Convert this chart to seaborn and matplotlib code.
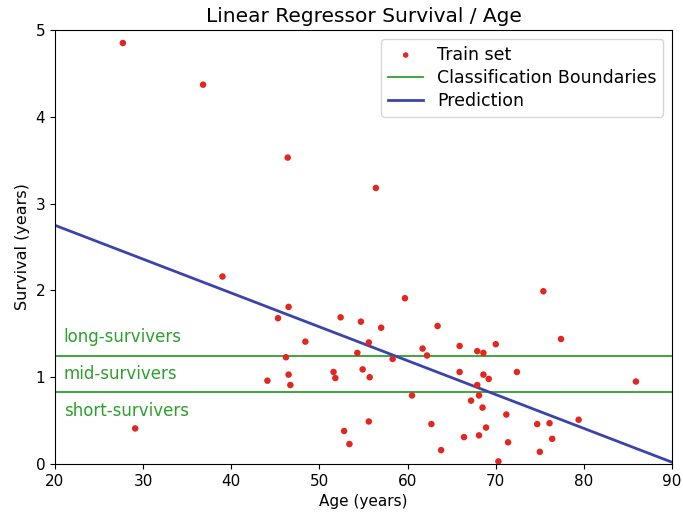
import numpy as np
import pandas as pd
import matplotlib
matplotlib.use('Agg')
import matplotlib.pyplot as plt
import seaborn as sns

# training points
age = [27.7, 36.8, 46.4, 56.4, 39.0, 29.1,
       46.5, 45.3, 52.4, 54.7, 57.0, 59.7, 63.4, 48.4, 55.6, 61.7, 54.3,
       46.2, 58.3, 62.2, 44.1, 46.5, 46.7, 51.6, 51.8, 54.9, 55.7, 60.5,
       55.6, 62.7, 52.8, 53.4, 63.8,
       75.4, 77.4, 65.9, 67.9, 68.6, 70.0, 65.9, 68.6, 69.2, 72.4, 85.9,
       67.9, 68.1, 67.2, 68.5, 71.2, 79.4, 74.7, 76.1, 68.9, 66.4, 68.1,
       71.4, 76.4, 75.0, 70.3]
survival = [4.85, 4.37, 3.53, 3.18, 2.16, 0.41,
            1.81, 1.68, 1.69, 1.64, 1.57, 1.91, 1.59, 1.41, 1.40, 1.33, 1.28,
            1.23, 1.21, 1.25, 0.96, 1.03, 0.91, 1.06, 0.99, 1.09, 1.00, 0.79,
            0.49, 0.46, 0.38, 0.23, 0.16,
            1.99, 1.44, 1.36, 1.30, 1.28, 1.38, 1.06, 1.03, 0.98, 1.06, 0.95,
            0.91, 0.79, 0.73, 0.65, 0.57, 0.51, 0.46, 0.47, 0.42, 0.31, 0.33,
            0.25, 0.29, 0.14, 0.03]

boundaries = [1.25, 0.83]
class_labels = ['long-survivers', 'mid-survivers', 'short-survivers']
label_y = [1.46, 1.04, 0.61]

pred_age = [20, 90]
pred_survival = [2.75, 0.02]

df = pd.DataFrame({'age': age, 'survival': survival})
pred = pd.DataFrame({'age': pred_age, 'survival': pred_survival})

fig, ax = plt.subplots(figsize=(6.83, 5.17), dpi=100)
fig.subplots_adjust(left=0.0805, right=0.984, top=0.942, bottom=0.1025)

sns.scatterplot(data=df, x='age', y='survival', color='#e3261f', s=22,
                edgecolor='none', label='Train set', ax=ax, zorder=3)
for i, b in enumerate(boundaries):
    ax.axhline(b, color='#2ca02c', lw=1.3,
               label='Classification Boundaries' if i == 0 else None)
sns.lineplot(data=pred, x='age', y='survival', color='#3b44ac', lw=2,
             label='Prediction', ax=ax)

for txt, yy in zip(class_labels, label_y):
    ax.text(21, yy, txt, color='#2ca02c', fontsize=12, va='center')

ax.set_xlim(20, 90)
ax.set_ylim(0, 5)
ax.set_xticks([20, 30, 40, 50, 60, 70, 80, 90])
ax.set_yticks([0, 1, 2, 3, 4, 5])
ax.tick_params(labelsize=11)
ax.set_xlabel('Age (years)', fontsize=11)
ax.set_ylabel('Survival (years)', fontsize=11.5)
ax.set_title('Linear Regressor Survival / Age', fontsize=14.5)
ax.legend(loc='upper right', fontsize=12.5, markerscale=0.85,
          labelspacing=0.3)

plt.savefig('out.png')
